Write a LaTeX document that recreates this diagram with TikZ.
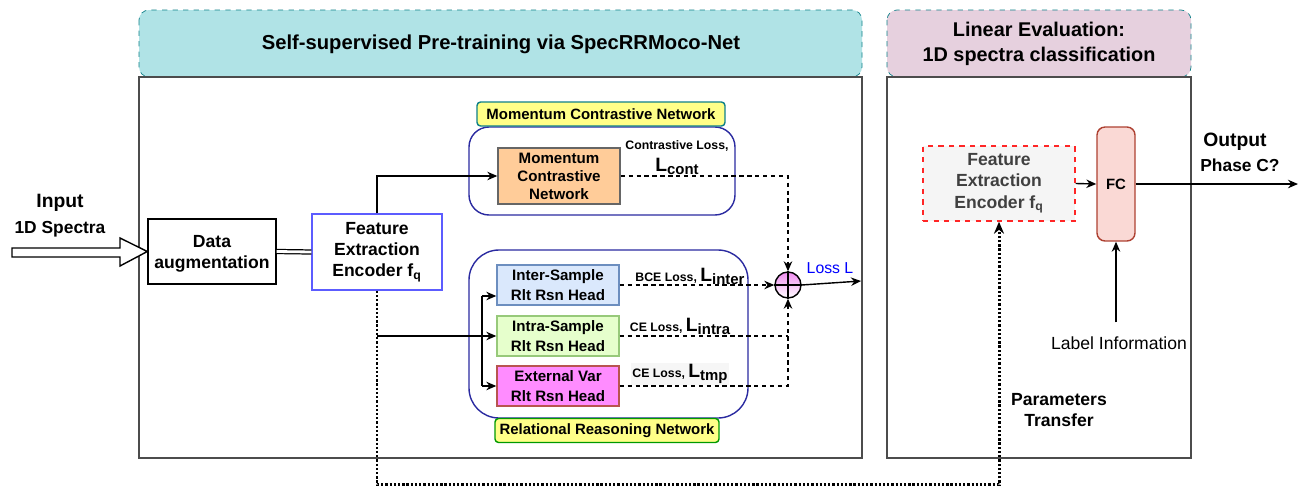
\documentclass[tikz,border=0pt]{standalone}
\usepackage{fontspec}
\setmainfont{Liberation Sans}
\usetikzlibrary{arrows.meta}

\definecolor{tealbg}{HTML}{B0E3E6}
\definecolor{tealline}{HTML}{0E8088}
\definecolor{mauvebg}{HTML}{E6D0DE}
\definecolor{netline}{HTML}{2A2AA0}
\definecolor{encline}{HTML}{5C5CFF}
\definecolor{tagyellow}{HTML}{FFFF88}
\definecolor{orangebg}{HTML}{FFCC99}
\definecolor{bluebg}{HTML}{DAE8FC}
\definecolor{blueline}{HTML}{6C8EBF}
\definecolor{greenbg}{HTML}{E6FFCC}
\definecolor{greenline}{HTML}{97C97A}
\definecolor{magbg}{HTML}{FF8CFF}
\definecolor{magline}{HTML}{B85450}
\definecolor{fcbg}{HTML}{FAD9D5}
\definecolor{fcline}{HTML}{AE4132}
\definecolor{sumpink}{HTML}{F08CF0}

\newcommand\fs[2]{\fontsize{#1}{#2}\selectfont}
\newcommand\lossterm[1]{{\fs{11}{13}L}\raisebox{-0.45ex}{\fs{8.5}{10}#1}}

\begin{document}
\begin{tikzpicture}[x=0.02cm, y=-0.02cm,
  box/.style={draw, line width=0.8pt, align=center, inner sep=0pt, font=\fs{10}{12}\bfseries},
  head/.style={box, minimum width=2.44cm, minimum height=0.8cm, font=\fs{8.6}{11.3}\bfseries},
  tag/.style={draw, fill=tagyellow, rounded corners=2pt, line width=0.8pt, inner sep=0pt,
    minimum height=0.48cm, font=\fs{8.5}{10}\bfseries},
  loss/.style={inner sep=1pt, font=\fs{7}{8}\bfseries},
  conn/.style={line width=0.8pt, -{Stealth[length=2mm,width=1.7mm]}},
  lossline/.style={dash pattern=on 2.5pt off 2pt},
]
\useasboundingbox (0,0) rectangle (1306,487);

% banners and frames
\draw[tealline, dashed, fill=tealbg, rounded corners=0.2cm] (139,10) rectangle (862,77);
\draw[tealline, dashed, fill=mauvebg, rounded corners=0.2cm] (887,10) rectangle (1191,77);
\draw[black!70, line width=0.8pt] (139,77) rectangle (862,458);
\draw[black!70, line width=0.8pt] (887,77) rectangle (1191,458);
\node[font=\fs{11.5}{14}\bfseries] (pretrain) at (501,44) {Self-supervised Pre-training via SpecRRMoco-Net};
\node[align=center, font=\fs{11.3}{14}\bfseries] (lineval) at (1039,44) {Linear Evaluation:\\1D spectra classification};

% network containers
\draw[netline, line width=0.8pt, rounded corners=0.4cm] (469,127) rectangle (735,215);
\draw[netline, line width=0.8pt, rounded corners=0.6cm] (469,250) rectangle (748,418);
\node[tag, draw=tealline, minimum width=4.96cm] (momtag) at (601,114) {Momentum Contrastive Network};
\node[tag, draw=green!60!black, minimum width=4.48cm] (rrtag) at (607,430.5) {Relational Reasoning Network};

% input side
\node[font=\fs{11}{13}\bfseries] (inp) at (60,203) {Input};
\node[font=\fs{9.9}{12}\bfseries] (spec) at (60,229) {1D Spectra};
\node[box, minimum width=2.56cm, minimum height=1.3cm, text depth=0pt] (data) at (212,251.5) {Data\\augmentation};
\node[box, draw=encline, minimum width=2.6cm, minimum height=1.52cm] (enc) at (377,252) {Feature\\Extraction\\Encoder f\textsubscript{q}};
\draw[line width=0.8pt, fill=white] (12,248) -- (120,248) -- (120,238) -- (data.west)
  -- (120,266) -- (120,257) -- (12,257) -- cycle;
\draw[line width=0.7pt, double, double distance=1.6pt] (data.east) -- (enc.west);

% heads
\node[box, fill=orangebg, draw=black!60, minimum width=2.44cm, minimum height=1.12cm,
  font=\fs{8.6}{10.2}\bfseries] (mom) at (559,176) {Momentum\\Contrastive\\Network};
\node[head, fill=bluebg, draw=blueline] (inter) at (558,285) {Inter-Sample\\Rlt Rsn Head};
\node[head, fill=greenbg, draw=greenline] (intra) at (558,336) {Intra-Sample\\Rlt Rsn Head};
\node[head, fill=magbg, draw=magline] (ext) at (558,386) {External Var\\Rlt Rsn Head};

\draw[conn] (enc.north) |- (mom.west);
\coordinate (split) at (enc.south |- intra.west);
\coordinate (fork) at (482,336);
\draw[conn] (split) -- (intra.west);
\draw[line width=0.8pt] ([yshift=-0.22cm]fork |- inter.west) -- (fork |- ext.west);
\draw[conn] ([yshift=-0.22cm]fork |- inter.west) -- ([yshift=-0.22cm]inter.west);
\draw[conn] (fork |- ext.west) -- (ext.west);

% losses
\node[circle, draw, line width=0.8pt, top color=sumpink, bottom color=white,
  minimum size=0.52cm, inner sep=0pt] (sum) at (788,285) {};
\draw[line width=0.8pt] (sum.north) -- (sum.south) (sum.west) -- (sum.east);
\node[loss] (lcont1) at (677,146) {Contrastive Loss,};
\node[loss] (lcont2) at (677,166) {\lossterm{cont}};
\node[loss] (linter) at (690,276) {BCE Loss, \lossterm{inter}};
\node[loss] (lintra) at (680,326) {CE Loss, \lossterm{intra}};
\node[loss, fill=gray!7] (ltmp) at (680,374) {CE Loss, \lossterm{tmp}};
\draw[conn, lossline] (mom.east) -| (sum.north);
\draw[conn, lossline] (inter.east) -- (sum.west);
\draw[line width=0.8pt, lossline] (intra.east) -- (intra.east -| sum.south);
\draw[conn, lossline] (ext.east) -| (sum.south);
\coordinate (lossout) at (861,281);
\draw[conn] (sum.east) -- (lossout);
\node[text=blue, font=\fs{9}{11}] (lossL) at (830,268) {Loss L};

% linear evaluation
\node[box, draw=red!85, dashed, fill=gray!8, text=black!75, minimum width=3.04cm,
  minimum height=1.5cm] (enc2) at (999,183.5) {Feature\\Extraction\\Encoder f\textsubscript{q}};
\node[box, fill=fcbg, draw=fcline, rounded corners=0.16cm, minimum width=0.76cm,
  minimum height=2.28cm, font=\fs{8.5}{10}\bfseries] (fc) at (1116,184) {FC};
\coordinate (out) at (1298,184);
\draw[conn] (enc2.east) -- (fc.west);
\draw[conn] (fc.east) -- (out);
\node[font=\fs{11}{13}\bfseries] (outp) at (1235,142) {Output};
\node[font=\fs{9.9}{12}\bfseries] (phase) at (1240,165) {Phase C?};
\node[font=\fs{10}{12}] (lbl) at (1119,343) {Label Information};
\draw[conn] ([yshift=0.16cm]fc.south |- lbl.north) -- (fc.south);

% parameters transfer
\draw[line width=1.7pt, dash pattern=on 1.3pt off 1.1pt, -{Stealth[length=2.4mm,width=2mm]}]
  (enc.south) -- ++(0,194) -| (enc2.south);
\node[align=center, font=\fs{10}{12}\bfseries] (ptrans) at (1059,410) {Parameters\\Transfer};
\end{tikzpicture}
\end{document}
